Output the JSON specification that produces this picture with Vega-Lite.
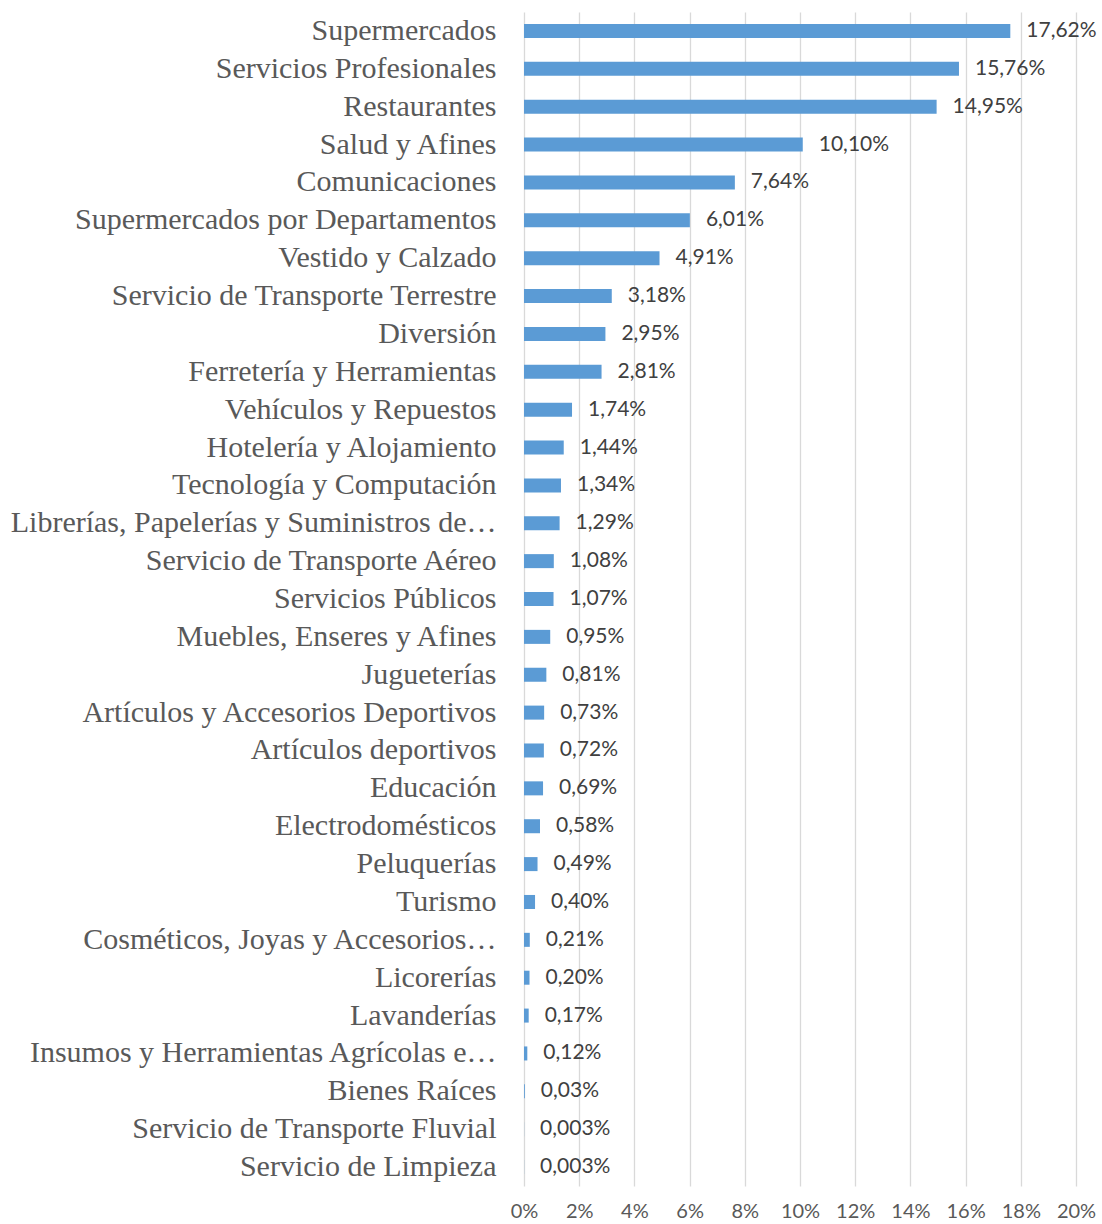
{
  "$schema": "https://vega.github.io/schema/vega-lite/v6.json",
  "autosize": {"type": "none"},
  "width": 552,
  "height": 1174,
  "padding": {"left": 524, "top": 12, "right": 26, "bottom": 38},
  "background": "white",
  "config": {"view": {"stroke": null}},
  "data": {"values": [
    {"cat": "Supermercados", "v": 17.62, "label": "17,62%"},
    {"cat": "Servicios Profesionales", "v": 15.76, "label": "15,76%"},
    {"cat": "Restaurantes", "v": 14.95, "label": "14,95%"},
    {"cat": "Salud y Afines", "v": 10.10, "label": "10,10%"},
    {"cat": "Comunicaciones", "v": 7.64, "label": "7,64%"},
    {"cat": "Supermercados por Departamentos", "v": 6.01, "label": "6,01%"},
    {"cat": "Vestido y Calzado", "v": 4.91, "label": "4,91%"},
    {"cat": "Servicio de Transporte Terrestre", "v": 3.18, "label": "3,18%"},
    {"cat": "Diversión", "v": 2.95, "label": "2,95%"},
    {"cat": "Ferretería y Herramientas", "v": 2.81, "label": "2,81%"},
    {"cat": "Vehículos y Repuestos", "v": 1.74, "label": "1,74%"},
    {"cat": "Hotelería y Alojamiento", "v": 1.44, "label": "1,44%"},
    {"cat": "Tecnología y Computación", "v": 1.34, "label": "1,34%"},
    {"cat": "Librerías, Papelerías y Suministros de…", "v": 1.29, "label": "1,29%"},
    {"cat": "Servicio de Transporte Aéreo", "v": 1.08, "label": "1,08%"},
    {"cat": "Servicios Públicos", "v": 1.07, "label": "1,07%"},
    {"cat": "Muebles, Enseres y Afines", "v": 0.95, "label": "0,95%"},
    {"cat": "Jugueterías", "v": 0.81, "label": "0,81%"},
    {"cat": "Artículos y Accesorios Deportivos", "v": 0.73, "label": "0,73%"},
    {"cat": "Artículos deportivos", "v": 0.72, "label": "0,72%"},
    {"cat": "Educación", "v": 0.69, "label": "0,69%"},
    {"cat": "Electrodomésticos", "v": 0.58, "label": "0,58%"},
    {"cat": "Peluquerías", "v": 0.49, "label": "0,49%"},
    {"cat": "Turismo", "v": 0.40, "label": "0,40%"},
    {"cat": "Cosméticos, Joyas y Accesorios…", "v": 0.21, "label": "0,21%"},
    {"cat": "Licorerías", "v": 0.20, "label": "0,20%"},
    {"cat": "Lavanderías", "v": 0.17, "label": "0,17%"},
    {"cat": "Insumos y Herramientas Agrícolas e…", "v": 0.12, "label": "0,12%"},
    {"cat": "Bienes Raíces", "v": 0.03, "label": "0,03%"},
    {"cat": "Servicio de Transporte Fluvial", "v": 0.003, "label": "0,003%"},
    {"cat": "Servicio de Limpieza", "v": 0.003, "label": "0,003%"}
  ]},
  "encoding": {
    "y": {
      "field": "cat", "type": "nominal", "sort": null,
      "scale": {"paddingInner": 0.63, "paddingOuter": 0.315},
      "axis": {
        "title": null, "ticks": false, "domain": false, "labelLimit": 0,
        "labelPadding": 28, "labelFont": "Liberation Serif", "labelFontSize": 30,
        "labelColor": "#595959"
      }
    },
    "x": {
      "field": "v", "type": "quantitative",
      "scale": {"domain": [0, 20], "nice": false},
      "axis": {
        "title": null, "values": [0, 2, 4, 6, 8, 10, 12, 14, 16, 18, 20],
        "labelExpr": "datum.value + '%'", "ticks": false, "domain": false,
        "grid": true, "gridColor": "#d9d9d9", "gridWidth": 1.3,
        "labelPadding": 15, "labelFont": "Lato", "labelFontSize": 20,
        "labelColor": "#595959", "labelFlush": false
      }
    }
  },
  "layer": [
    {"mark": {"type": "bar", "color": "#5B9BD5"}},
    {
      "mark": {"type": "text", "align": "left", "dx": 16, "font": "Lato", "fontSize": 21, "color": "#404040", "baseline": "middle"},
      "encoding": {"text": {"field": "label"}}
    }
  ]
}
